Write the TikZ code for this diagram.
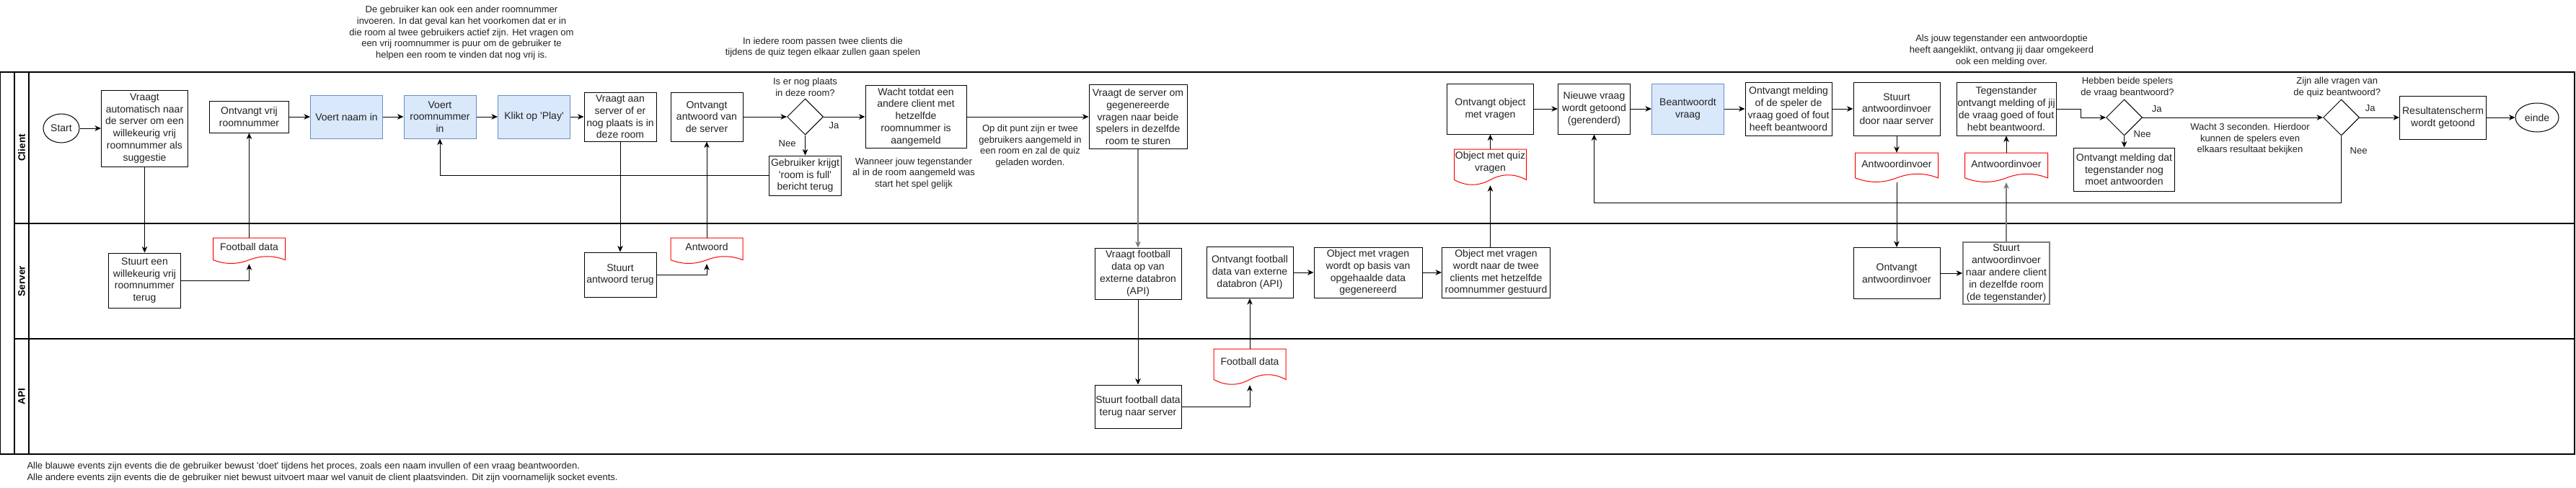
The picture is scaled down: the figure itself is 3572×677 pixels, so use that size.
\documentclass[tikz,border=0pt]{standalone}
\usepackage{fontspec}
\setmainfont{Liberation Sans}[Ligatures=TeXOff]
\usetikzlibrary{arrows.meta,shapes.geometric,calc}
\definecolor{bluefill}{HTML}{DAE8FC}
\definecolor{blueedge}{HTML}{6C8EBF}
\definecolor{docred}{HTML}{FF0000}
\definecolor{txtc}{HTML}{222222}
\definecolor{grayedge}{HTML}{7A7A7A}
\tikzset{
  bxtext/.style={font=\fontsize{14}{16.8}\selectfont, text=txtc, align=center, inner sep=0pt},
  bx/.style={bxtext, rectangle, draw=black, line width=1pt, fill=white},
  bluebx/.style={bx, draw=blueedge, fill=bluefill},
  graybx/.style={bx, draw=grayedge, line width=1.6pt},
  termnode/.style={bxtext, ellipse, draw=black, line width=1pt, fill=white, minimum width=50pt, minimum height=40pt},
  decnode/.style={diamond, draw=black, line width=1pt, fill=white, inner sep=0pt, minimum width=50pt, minimum height=50pt},
  notetxt/.style={font=\fontsize{13}{15.6}\selectfont, text=txtc, align=center, inner sep=0pt},
  docbox/.style={rectangle, inner sep=0pt},
  docline/.style={draw=docred, line width=1pt, fill=white},
  flow/.style={draw=black, line width=1pt, -{Stealth[length=8.5pt,width=7.5pt,inset=2.5pt]}},
  grayflow/.style={flow, draw=grayedge, line width=1.4pt},
  laneline/.style={draw=black, line width=1.3pt},
  lanelbl/.style={font=\fontsize{13.5}{16}\selectfont\bfseries, text=black, rotate=90, inner sep=0pt},
}
% name, cx, top, w, h, text, text-y
\newcommand{\docshape}[7]{%
  \node[docbox, minimum width=#4pt, minimum height=#5pt] (#1) at (#2,{#3+#5/2}) {};
  \draw[docline] ({#2-#4/2},#3) -- ({#2+#4/2},#3) -- ({#2+#4/2},{#3+0.85*#5})
    .. controls ({#2+#4/2-0.1667*#4},{#3+0.67*#5}) and ({#2+#4/2-0.3333*#4},{#3+0.67*#5}) .. (#2,{#3+0.85*#5})
    .. controls ({#2-#4/2+0.3333*#4},{#3+1.03*#5}) and ({#2-#4/2+0.1667*#4},{#3+1.03*#5}) .. ({#2-#4/2},{#3+0.85*#5}) -- cycle;
  \node[bxtext] (#1t) at (#2,#7) {#6};
}
\begin{document}
\begin{tikzpicture}[x=1pt,y=-1pt]
\useasboundingbox (0,0) rectangle (3572,677);
\fill[white] (0,0) rectangle (3572,677);

% pool and lanes
\draw[laneline] (0,100) rectangle (3570,630);
\draw[laneline] (20,100) -- (20,630);
\draw[laneline] (40,100) -- (40,630);
\draw[laneline] (20,310) -- (3570,310);
\draw[laneline] (20,470) -- (3570,470);
\node[lanelbl] (lclient) at (30,205) {Client};
\node[lanelbl] (lserver) at (30,390) {Server};
\node[lanelbl] (lapi) at (30,550) {API};

% annotations
\node[notetxt] (a1) at (640,45.7) {De gebruiker kan ook een ander roomnummer\\invoeren. In dat geval kan het voorkomen dat er in\\die room al twee gebruikers actief zijn. Het vragen om\\een vrij roomnummer is puur om de gebruiker te\\helpen een room te vinden dat nog vrij is.};
\node[notetxt] (a2) at (1141,65.5) {In iedere room passen twee clients die\\tijdens de quiz tegen elkaar zullen gaan spelen};
\node[notetxt] (a3) at (2775.5,70.2) {Als jouw tegenstander een antwoordoptie\\heeft aangeklikt, ontvang jij daar omgekeerd\\ook een melding over.};
\node[notetxt, align=left, anchor=west, font=\fontsize{13}{16}\selectfont] (footer) at (37.3,655.3) {Alle blauwe events zijn events die de gebruiker bewust 'doet' tijdens het proces, zoals een naam invullen of een vraag beantwoorden.\\Alle andere events zijn events die de gebruiker niet bewust uitvoert maar wel vanuit de client plaatsvinden. Dit zijn voornamelijk socket events.};

% client lane
\node[termnode] (start) at (85,178) {Start};
\node[bx, minimum width=120pt, minimum height=106pt] (vraagtauto) at (200.5,178) {Vraagt\\automatisch naar\\de server om een\\willekeurig vrij\\roomnummer als\\suggestie};
\node[bx, minimum width=110pt, minimum height=44pt] (ontvrij) at (345.5,162) {Ontvangt vrij\\roomnummer};
\node[bluebx, minimum width=100pt, minimum height=60pt] (voertnaam) at (480.5,162) {Voert naam in};
\node[bluebx, minimum width=100pt, minimum height=60pt] (voertroom) at (610,162) {Voert\\roomnummer\\in};
\node[bluebx, minimum width=100pt, minimum height=60pt] (klikt) at (740.5,162) {Klikt op 'Play'};
\node[bx, minimum width=100pt, minimum height=68pt] (vraagtplaats) at (860,162) {Vraagt aan\\server of er\\nog plaats is in\\deze room};
\node[bx, minimum width=100pt, minimum height=68pt] (ontvantw) at (980,162) {Ontvangt\\antwoord van\\de server};
\node[decnode] (dia1) at (1116.5,162) {};
\node[notetxt] (dia1q) at (1116.5,121) {Is er nog plaats\\in deze room?};
\node[notetxt] (dia1ja) at (1156.6,174) {Ja};
\node[notetxt] (dia1nee) at (1091.6,199) {Nee};
\node[bx, minimum width=100pt, minimum height=55pt] (full) at (1116.5,243.5) {Gebruiker krijgt\\'room is full'\\bericht terug};
\node[bx, minimum width=140pt, minimum height=87pt] (wacht) at (1270,162) {Wacht totdat een\\andere client met\\hetzelfde\\roomnummer is\\aangemeld};
\node[notetxt] (wachtnote) at (1267,240.5) {Wanneer jouw tegenstander\\al in de room aangemeld was\\start het spel gelijk};
\node[bx, minimum width=136pt, minimum height=89pt] (vraagtgen) at (1578,162) {Vraagt de server om\\gegenereerde\\vragen naar beide\\spelers in dezelfde\\room te sturen};
\node[notetxt] (oppunt) at (1428.5,202.5) {Op dit punt zijn er twee\\gebruikers aangemeld in\\een room en zal de quiz\\geladen worden.};
\node[bx, minimum width=120pt, minimum height=70pt] (ontvobj) at (2066.5,151) {Ontvangt object\\met vragen};
\node[bx, minimum width=100pt, minimum height=70pt] (nieuwe) at (2210.5,151) {Nieuwe vraag\\wordt getoond\\(gerenderd)};
\node[bluebx, minimum width=100pt, minimum height=70pt] (beant) at (2340.5,151) {Beantwoordt\\vraag};
\docshape{quizdoc}{2066.5}{207}{100}{50}{Object met quiz\\vragen}{225}
\node[bx, minimum width=120pt, minimum height=74pt] (melding) at (2480,151) {Ontvangt melding\\of de speler de\\vraag goed of fout\\heeft beantwoord};
\node[bx, minimum width=120pt, minimum height=74pt] (stuurtdoor) at (2630,151) {Stuurt\\antwoordinvoer\\door naar server};
\docshape{antwdoc1}{2630}{212}{115}{41}{Antwoordinvoer}{227.3}
\node[bx, minimum width=138pt, minimum height=74pt] (tegen) at (2782,151) {Tegenstander\\ontvangt melding of jij\\de vraag goed of fout\\hebt beantwoord.};
\docshape{antwdoc2}{2782}{212}{115}{41}{Antwoordinvoer}{227.3}
\coordinate (bend1) at (2885,151);
\node[decnode] (dia2) at (2945.5,163) {};
\node[notetxt] (dia2q) at (2950,121.3) {Hebben beide spelers\\de vraag beantwoord?};
\node[notetxt] (dia2ja) at (2990.7,150.7) {Ja};
\node[notetxt] (dia2nee) at (2970.6,186) {Nee};
\node[bx, minimum width=140pt, minimum height=60pt] (moet) at (2945.5,235) {Ontvangt melding dat\\tegenstander nog\\moet antwoorden};
\node[decnode] (dia3) at (3246.5,163) {};
\node[notetxt] (dia3q) at (3240.8,121.3) {Zijn alle vragen van\\de quiz beantwoord?};
\node[notetxt] (dia3ja) at (3286.6,150) {Ja};
\node[notetxt] (dia3nee) at (3270.6,208.7) {Nee};
\node[notetxt] (wacht3) at (3120,193) {Wacht 3 seconden. Hierdoor\\kunnen de spelers even\\elkaars resultaat bekijken};
\coordinate (loop2) at (3246.5,281);
\node[bx, minimum width=120pt, minimum height=60pt] (result) at (3387.5,163) {Resultatenscherm\\wordt getoond};
\node[termnode, minimum width=60pt, minimum height=40pt] (einde) at (3518,163) {einde};

% server lane
\node[bx, minimum width=100pt, minimum height=76pt] (stuurtvrij) at (200.5,389) {Stuurt een\\willekeurig vrij\\roomnummer\\terug};
\docshape{fdoc1}{345.5}{330}{100}{36}{Football data}{342.3}
\node[bx, minimum width=100pt, minimum height=62pt] (stuurtantw) at (860,381) {Stuurt\\antwoord terug};
\docshape{antwoorddoc}{980}{330}{100}{36}{Antwoord}{342.3}
\node[bx, minimum width=120pt, minimum height=71pt] (vraagtfb) at (1578,379.5) {Vraagt football\\data op van\\externe databron\\(API)};
\node[bx, minimum width=120pt, minimum height=71pt] (ontvfb) at (1733,378) {Ontvangt football\\data van externe\\databron (API)};
\node[bx, minimum width=150pt, minimum height=70pt] (objgen) at (1897,378) {Object met vragen\\wordt op basis van\\opgehaalde data\\gegenereerd};
\node[bx, minimum width=150pt, minimum height=70pt] (objsend) at (2074.5,378) {Object met vragen\\wordt naar de twee\\clients met hetzelfde\\roomnummer gestuurd};
\node[bx, minimum width=120pt, minimum height=71pt] (ontvinv) at (2630,379) {Ontvangt\\antwoordinvoer};
\node[graybx, minimum width=120pt, minimum height=86pt] (stuurtinv) at (2782,379) {Stuurt\\antwoordinvoer\\naar andere client\\in dezelfde room\\(de tegenstander)};

% api lane
\node[bx, minimum width=120pt, minimum height=60pt] (stuurtfb) at (1578,564) {Stuurt football data\\terug naar server};
\docshape{fdoc2}{1733}{484}{100}{50}{Football data}{501.3}

% connectors
\draw[flow] (start) -- (vraagtauto);
\draw[flow] (vraagtauto.south) -- (vraagtauto.south |- stuurtvrij.north);
\draw[flow] (stuurtvrij.east) -| (fdoc1.south);
\draw[flow] (fdoc1.north) -- (ontvrij.south);
\draw[flow] (ontvrij) -- (voertnaam);
\draw[flow] (voertnaam) -- (voertroom);
\draw[flow] (voertroom) -- (klikt);
\draw[flow] (klikt) -- (vraagtplaats);
\draw[flow] (vraagtplaats.south) -- (stuurtantw.north);
\draw[flow] (stuurtantw.east) -| (antwoorddoc.south);
\draw[flow] (antwoorddoc.north) -- (ontvantw.south);
\draw[flow] (ontvantw) -- (dia1);
\draw[flow] (dia1) -- (wacht);
\draw[flow] (dia1.south) -- (full.north);
\draw[flow] (full.west) -| (voertroom.south);
\draw[flow] (wacht) -- (vraagtgen);
\draw[grayflow] (vraagtgen.south) -- (vraagtfb.north);
\draw[flow] (vraagtfb.south) -- (stuurtfb.north);
\draw[flow] (stuurtfb.east) -| (fdoc2.south);
\draw[flow] (fdoc2.north) -- (ontvfb.south);
\draw[flow] (ontvfb) -- (objgen);
\draw[flow] (objgen) -- (objsend);
\draw[flow] (objsend.north -| quizdoc.south) -- (quizdoc.south);
\draw[flow] (quizdoc.north) -- (ontvobj.south);
\draw[flow] (ontvobj) -- (nieuwe);
\draw[flow] (nieuwe) -- (beant);
\draw[flow] (beant) -- (melding);
\draw[flow] (melding) -- (stuurtdoor);
\draw[flow] (stuurtdoor.south) -- (antwdoc1.north);
\draw[flow] (antwdoc1.south) -- (ontvinv.north);
\draw[flow] (ontvinv) -- (stuurtinv);
\draw[grayflow] (stuurtinv.north) -- (antwdoc2.south);
\draw[flow] (antwdoc2.north) -- (tegen.south);
\draw[flow] (tegen.east) -- (bend1) |- (dia2.west);
\draw[flow] (dia2.east) -- (dia3.west);
\draw[flow] (dia2.south) -- (moet.north);
\draw[flow] (dia3.east) -- (result.west);
\draw[flow] (dia3.south) -- (loop2) -| (nieuwe.south);
\draw[flow] (result) -- (einde);
\end{tikzpicture}
\end{document}
